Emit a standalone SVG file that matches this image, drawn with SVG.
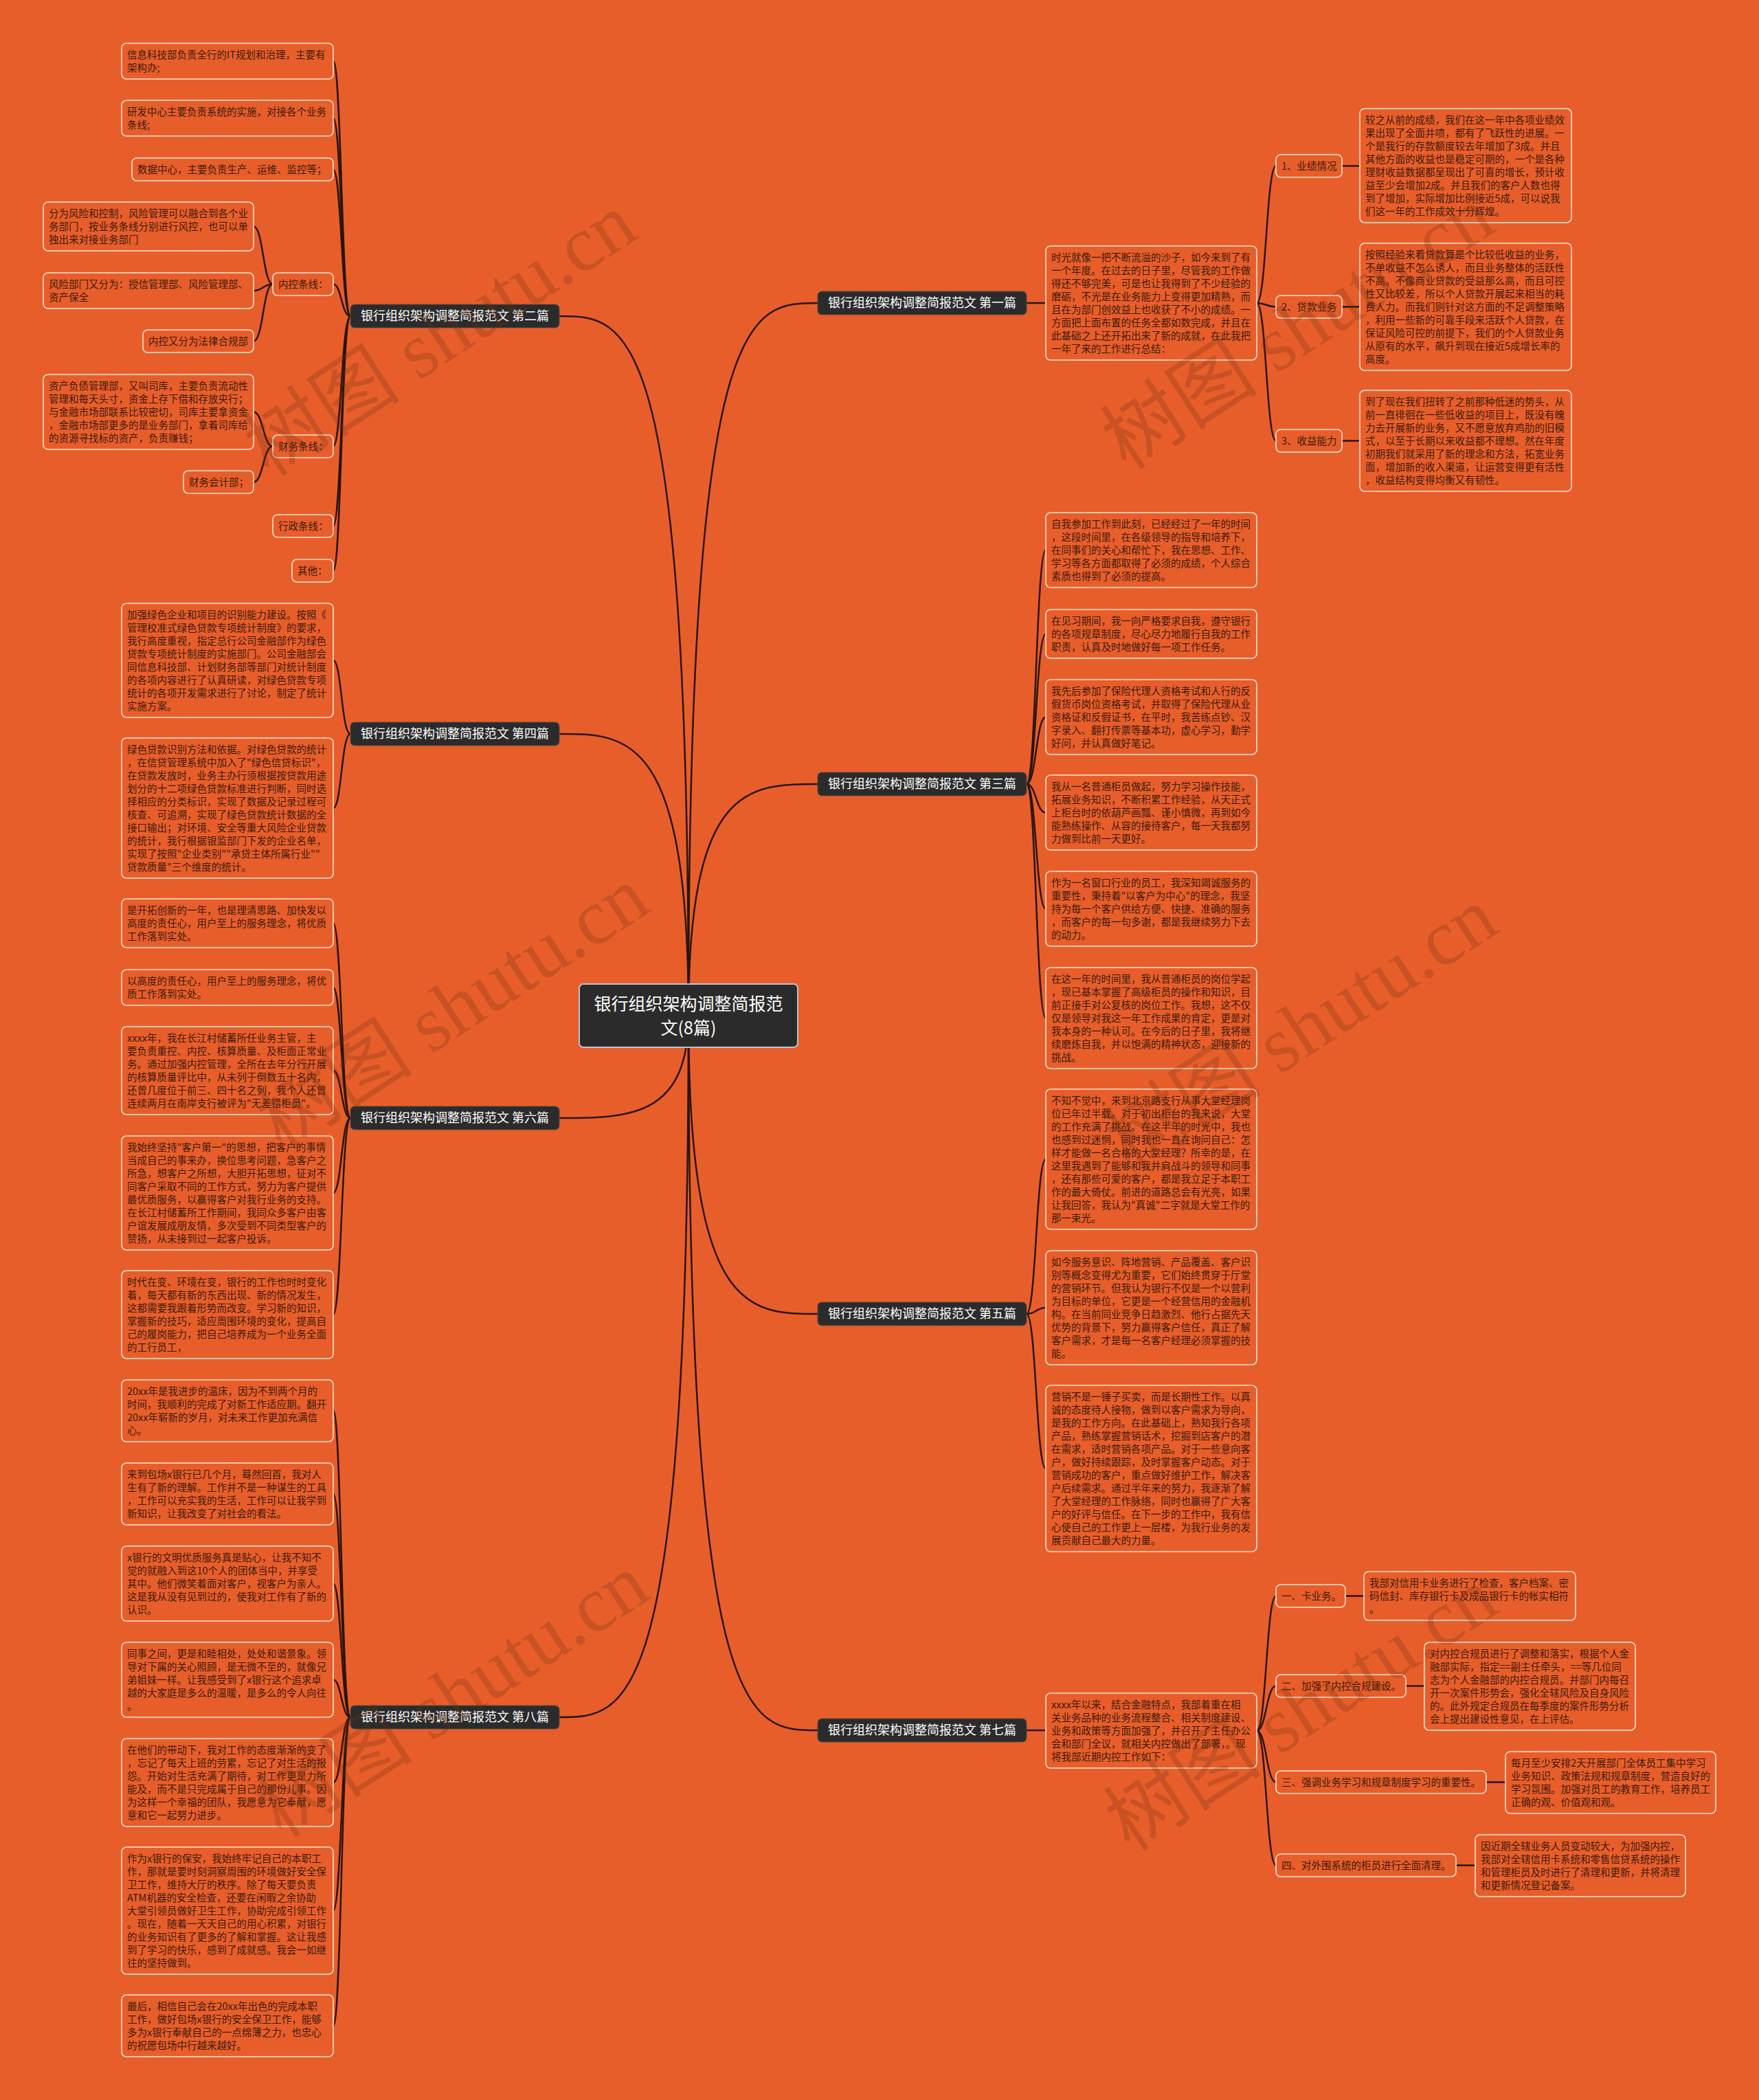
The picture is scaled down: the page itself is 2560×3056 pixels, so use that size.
<svg xmlns="http://www.w3.org/2000/svg" width="2560" height="3056" viewBox="0 0 2560 3056">
<style>
.bg{fill:#E85E2B}
.box{fill:#E85E2B;stroke:#FBE3CF;stroke-width:1.6}
.t{font-family:"Noto Sans CJK SC","Noto Sans CJK JP",sans-serif;font-size:14.5px;fill:#3b1a0c}
.br{fill:#2b2b2b;stroke:#5a4a44;stroke-width:1}
.bt{font-family:"Noto Sans CJK SC","Noto Sans CJK JP",sans-serif;font-size:18px;fill:#ffffff;text-anchor:middle}
.root{fill:#2b2b2b;stroke:#b8c4cf;stroke-width:2}
.rt{font-family:"Noto Sans CJK SC","Noto Sans CJK JP",sans-serif;font-size:25px;fill:#ffffff;text-anchor:middle}
.ln{fill:none;stroke:#2a150b;stroke-width:2.5}
.wm{font-family:"Liberation Serif","Noto Sans CJK SC",serif;font-size:115px;fill:#6b2f12;opacity:0.25;text-anchor:middle}
</style>
<rect class="bg" x="0" y="0" width="2560" height="3056"/>

<g id="connectors">
<path class="ln" d="M1002,1478 C1002,460 914,460 814,460"/>
<path class="ln" d="M1002,1478 C1002,1068 914,1068 814,1068"/>
<path class="ln" d="M1002,1478 C1002,1627 914,1627 814,1627"/>
<path class="ln" d="M1002,1478 C1002,2499 914,2499 814,2499"/>
<path class="ln" d="M1002,1478 C1002,441 1090,441 1190,441"/>
<path class="ln" d="M1002,1478 C1002,1141 1090,1141 1190,1141"/>
<path class="ln" d="M1002,1478 C1002,1912 1090,1912 1190,1912"/>
<path class="ln" d="M1002,1478 C1002,2518 1090,2518 1190,2518"/>
<path class="ln" d="M510,460 C497,460 497,89 485,89"/>
<path class="ln" d="M510,460 C497,460 497,172 485,172"/>
<path class="ln" d="M510,460 C497,460 497,246.5 485,246.5"/>
<path class="ln" d="M510,460 C497,460 497,413.5 485,413.5"/>
<path class="ln" d="M510,460 C497,460 497,649.5 485,649.5"/>
<path class="ln" d="M510,460 C497,460 497,765.5 485,765.5"/>
<path class="ln" d="M510,460 C497,460 497,830.5 485,830.5"/>
<path class="ln" d="M397,413.5 C383,413.5 383,329.5 369,329.5"/>
<path class="ln" d="M397,413.5 C383,413.5 383,423 369,423"/>
<path class="ln" d="M397,413.5 C383,413.5 383,496.5 369,496.5"/>
<path class="ln" d="M397,649.5 C383,649.5 383,599.5 369,599.5"/>
<path class="ln" d="M397,649.5 C383,649.5 383,701.5 369,701.5"/>
<path class="ln" d="M510,1068 C497,1068 497,961 485,961"/>
<path class="ln" d="M510,1068 C497,1068 497,1176 485,1176"/>
<path class="ln" d="M510,1627 C497,1627 497,1343.5 485,1343.5"/>
<path class="ln" d="M510,1627 C497,1627 497,1437 485,1437"/>
<path class="ln" d="M510,1627 C497,1627 497,1558 485,1558"/>
<path class="ln" d="M510,1627 C497,1627 497,1736 485,1736"/>
<path class="ln" d="M510,1627 C497,1627 497,1913 485,1913"/>
<path class="ln" d="M510,2499 C497,2499 497,2053 485,2053"/>
<path class="ln" d="M510,2499 C497,2499 497,2174 485,2174"/>
<path class="ln" d="M510,2499 C497,2499 497,2304.5 485,2304.5"/>
<path class="ln" d="M510,2499 C497,2499 497,2444.5 485,2444.5"/>
<path class="ln" d="M510,2499 C497,2499 497,2594 485,2594"/>
<path class="ln" d="M510,2499 C497,2499 497,2780.5 485,2780.5"/>
<path class="ln" d="M510,2499 C497,2499 497,2948 485,2948"/>
<path class="ln" d="M1494,441 L1522,441"/>
<path class="ln" d="M1829,441 C1843,441 1843,241.5 1857,241.5"/>
<path class="ln" d="M1829,441 C1843,441 1843,446.5 1857,446.5"/>
<path class="ln" d="M1829,441 C1843,441 1843,641.5 1857,641.5"/>
<path class="ln" d="M1953,241.5 L1979,241.5"/>
<path class="ln" d="M1953,446.5 L1979,446.5"/>
<path class="ln" d="M1953,641.5 L1979,641.5"/>
<path class="ln" d="M1494,1141 C1508,1141 1508,800.5 1522,800.5"/>
<path class="ln" d="M1494,1141 C1508,1141 1508,922.5 1522,922.5"/>
<path class="ln" d="M1494,1141 C1508,1141 1508,1043.5 1522,1043.5"/>
<path class="ln" d="M1494,1141 C1508,1141 1508,1182.5 1522,1182.5"/>
<path class="ln" d="M1494,1141 C1508,1141 1508,1322.5 1522,1322.5"/>
<path class="ln" d="M1494,1141 C1508,1141 1508,1481.5 1522,1481.5"/>
<path class="ln" d="M1494,1912 C1508,1912 1508,1687 1522,1687"/>
<path class="ln" d="M1494,1912 C1508,1912 1508,1903 1522,1903"/>
<path class="ln" d="M1494,1912 C1508,1912 1508,2137 1522,2137"/>
<path class="ln" d="M1494,2518 L1522,2518"/>
<path class="ln" d="M1829,2518.5 C1843,2518.5 1843,2322.5 1857,2322.5"/>
<path class="ln" d="M1829,2518.5 C1843,2518.5 1843,2453.5 1857,2453.5"/>
<path class="ln" d="M1829,2518.5 C1843,2518.5 1843,2593.5 1857,2593.5"/>
<path class="ln" d="M1829,2518.5 C1843,2518.5 1843,2714.5 1857,2714.5"/>
<path class="ln" d="M1958,2322.5 L1985,2322.5"/>
<path class="ln" d="M2046,2453.5 L2073,2453.5"/>
<path class="ln" d="M2163,2593.5 L2191,2593.5"/>
<path class="ln" d="M2119,2714.5 L2147,2714.5"/>
</g>

<g id="root">
<rect class="root" x="843" y="1432" width="318" height="92" rx="6"/>
<text class="rt" x="1002" y="1470">银行组织架构调整简报范</text>
<text class="rt" x="1002" y="1505">文(8篇)</text>
</g>

<g id="branch2"><rect class="br" x="510" y="443" width="304" height="34" rx="6"/><text class="bt" x="662" y="466">银行组织架构调整简报范文 第二篇</text></g>
<g id="branch4"><rect class="br" x="510" y="1051" width="304" height="34" rx="6"/><text class="bt" x="662" y="1074">银行组织架构调整简报范文 第四篇</text></g>
<g id="branch6"><rect class="br" x="510" y="1610" width="304" height="34" rx="6"/><text class="bt" x="662" y="1633">银行组织架构调整简报范文 第六篇</text></g>
<g id="branch8"><rect class="br" x="510" y="2482" width="304" height="34" rx="6"/><text class="bt" x="662" y="2505">银行组织架构调整简报范文 第八篇</text></g>
<g id="branch1"><rect class="br" x="1190" y="424" width="304" height="34" rx="6"/><text class="bt" x="1342" y="447">银行组织架构调整简报范文 第一篇</text></g>
<g id="branch3"><rect class="br" x="1190" y="1124" width="304" height="34" rx="6"/><text class="bt" x="1342" y="1147">银行组织架构调整简报范文 第三篇</text></g>
<g id="branch5"><rect class="br" x="1190" y="1895" width="304" height="34" rx="6"/><text class="bt" x="1342" y="1918">银行组织架构调整简报范文 第五篇</text></g>
<g id="branch7"><rect class="br" x="1190" y="2501" width="304" height="34" rx="6"/><text class="bt" x="1342" y="2524">银行组织架构调整简报范文 第七篇</text></g>

<g id="b2-1"><rect class="box" x="177" y="63" width="308" height="52" rx="7"/><text class="t" x="185" y="85"><tspan x="185">信息科技部负责全行的IT规划和治理，主要有</tspan><tspan x="185" dy="19">架构办;</tspan></text></g>
<g id="b2-2"><rect class="box" x="177" y="146" width="308" height="52" rx="7"/><text class="t" x="185" y="168"><tspan x="185">研发中心主要负责系统的实施，对接各个业务</tspan><tspan x="185" dy="19">条线;</tspan></text></g>
<g id="b2-3"><rect class="box" x="192" y="230" width="293" height="33" rx="7"/><text class="t" x="200" y="252">数据中心，主要负责生产、运维、监控等；</text></g>
<g id="b2-4"><rect class="box" x="397" y="397" width="88" height="33" rx="7"/><text class="t" x="405" y="419">内控条线：</text></g>
<g id="b2-4-1"><rect class="box" x="63" y="294" width="306" height="71" rx="7"/><text class="t" x="71" y="316"><tspan x="71">分为风险和控制，风险管理可以融合到各个业</tspan><tspan x="71" dy="19">务部门，按业务条线分别进行风控，也可以单</tspan><tspan x="71" dy="19">独出来对接业务部门</tspan></text></g>
<g id="b2-4-2"><rect class="box" x="63" y="397" width="306" height="52" rx="7"/><text class="t" x="71" y="419"><tspan x="71">风险部门又分为：授信管理部、风险管理部、</tspan><tspan x="71" dy="19">资产保全</tspan></text></g>
<g id="b2-4-3"><rect class="box" x="208" y="480" width="161" height="33" rx="7"/><text class="t" x="216" y="502">内控又分为法律合规部</text></g>
<g id="b2-5"><rect class="box" x="397" y="633" width="88" height="33" rx="7"/><text class="t" x="405" y="655">财务条线：</text></g>
<g id="b2-5-1"><rect class="box" x="63" y="545" width="306" height="109" rx="7"/><text class="t" x="71" y="567"><tspan x="71">资产负债管理部，又叫司库，主要负责流动性</tspan><tspan x="71" dy="19">管理和每天头寸，资金上存下借和存放央行；</tspan><tspan x="71" dy="19">与金融市场部联系比较密切，司库主要拿资金</tspan><tspan x="71" dy="19">，金融市场部更多的是业务部门，拿着司库给</tspan><tspan x="71" dy="19">的资源寻找标的资产，负责赚钱；</tspan></text></g>
<g id="b2-5-2"><rect class="box" x="267" y="685" width="102" height="33" rx="7"/><text class="t" x="275" y="707">财务会计部；</text></g>
<g id="b2-6"><rect class="box" x="397" y="749" width="88" height="33" rx="7"/><text class="t" x="405" y="771">行政条线：</text></g>
<g id="b2-7"><rect class="box" x="425" y="814" width="60" height="33" rx="7"/><text class="t" x="433" y="836">其他：</text></g>

<g id="b4-1"><rect class="box" x="177" y="878" width="308" height="166" rx="7"/><text class="t" x="185" y="900"><tspan x="185">加强绿色企业和项目的识别能力建设。按照《</tspan><tspan x="185" dy="19">管理校准式绿色贷款专项统计制度》的要求，</tspan><tspan x="185" dy="19">我行高度重视，指定总行公司金融部作为绿色</tspan><tspan x="185" dy="19">贷款专项统计制度的实施部门。公司金融部会</tspan><tspan x="185" dy="19">同信息科技部、计划财务部等部门对统计制度</tspan><tspan x="185" dy="19">的各项内容进行了认真研读，对绿色贷款专项</tspan><tspan x="185" dy="19">统计的各项开发需求进行了讨论，制定了统计</tspan><tspan x="185" dy="19">实施方案。</tspan></text></g>
<g id="b4-2"><rect class="box" x="177" y="1074" width="308" height="204" rx="7"/><text class="t" x="185" y="1096"><tspan x="185">绿色贷款识别方法和依据。对绿色贷款的统计</tspan><tspan x="185" dy="19">，在信贷管理系统中加入了"绿色信贷标识"，</tspan><tspan x="185" dy="19">在贷款发放时，业务主办行须根据按贷款用途</tspan><tspan x="185" dy="19">划分的十二项绿色贷款标准进行判断，同时选</tspan><tspan x="185" dy="19">择相应的分类标识，实现了数据及记录过程可</tspan><tspan x="185" dy="19">核查、可追溯，实现了绿色贷款统计数据的全</tspan><tspan x="185" dy="19">接口输出；对环境、安全等重大风险企业贷款</tspan><tspan x="185" dy="19">的统计，我行根据银监部门下发的企业名单，</tspan><tspan x="185" dy="19">实现了按照"企业类别""承贷主体所属行业""</tspan><tspan x="185" dy="19">贷款质量"三个维度的统计。</tspan></text></g>

<g id="b6-1"><rect class="box" x="177" y="1308" width="308" height="71" rx="7"/><text class="t" x="185" y="1330"><tspan x="185">是开拓创新的一年，也是理清思路、加快发以</tspan><tspan x="185" dy="19">高度的责任心，用户至上的服务理念，将优质</tspan><tspan x="185" dy="19">工作落到实处。</tspan></text></g>
<g id="b6-2"><rect class="box" x="177" y="1411" width="308" height="52" rx="7"/><text class="t" x="185" y="1433"><tspan x="185">以高度的责任心，用户至上的服务理念，将优</tspan><tspan x="185" dy="19">质工作落到实处。</tspan></text></g>
<g id="b6-3"><rect class="box" x="177" y="1494" width="308" height="128" rx="7"/><text class="t" x="185" y="1516"><tspan x="185">xxxx年，我在长江村储蓄所任业务主管，主</tspan><tspan x="185" dy="19">要负责重控、内控、核算质量、及柜面正常业</tspan><tspan x="185" dy="19">务。通过加强内控管理，全所在去年分行开展</tspan><tspan x="185" dy="19">的核算质量评比中，从未列于倒数五十名内，</tspan><tspan x="185" dy="19">还曾几度位于前三、四十名之列，我个人还曾</tspan><tspan x="185" dy="19">连续两月在南岸支行被评为"无差错柜员"。</tspan></text></g>
<g id="b6-4"><rect class="box" x="177" y="1653" width="308" height="166" rx="7"/><text class="t" x="185" y="1675"><tspan x="185">我始终坚持"客户第一"的思想，把客户的事情</tspan><tspan x="185" dy="19">当成自己的事来办，换位思考问题，急客户之</tspan><tspan x="185" dy="19">所急，想客户之所想，大胆开拓思想，征对不</tspan><tspan x="185" dy="19">同客户采取不同的工作方式，努力为客户提供</tspan><tspan x="185" dy="19">最优质服务，以赢得客户对我行业务的支持。</tspan><tspan x="185" dy="19">在长江村储蓄所工作期间，我同众多客户由客</tspan><tspan x="185" dy="19">户谊发展成朋友情，多次受到不同类型客户的</tspan><tspan x="185" dy="19">赞扬，从未接到过一起客户投诉。</tspan></text></g>
<g id="b6-5"><rect class="box" x="177" y="1849" width="308" height="128" rx="7"/><text class="t" x="185" y="1871"><tspan x="185">时代在变、环境在变，银行的工作也时时变化</tspan><tspan x="185" dy="19">着，每天都有新的东西出现、新的情况发生，</tspan><tspan x="185" dy="19">这都需要我跟着形势而改变。学习新的知识，</tspan><tspan x="185" dy="19">掌握新的技巧，适应周围环境的变化，提高自</tspan><tspan x="185" dy="19">己的履岗能力，把自己培养成为一个业务全面</tspan><tspan x="185" dy="19">的工行员工，</tspan></text></g>

<g id="b8-1"><rect class="box" x="177" y="2008" width="308" height="90" rx="7"/><text class="t" x="185" y="2030"><tspan x="185">20xx年是我进步的温床，因为不到两个月的</tspan><tspan x="185" dy="19">时间，我顺利的完成了对新工作适应期。翻开</tspan><tspan x="185" dy="19">20xx年崭新的岁月，对未来工作更加充满信</tspan><tspan x="185" dy="19">心。</tspan></text></g>
<g id="b8-2"><rect class="box" x="177" y="2129" width="308" height="90" rx="7"/><text class="t" x="185" y="2151"><tspan x="185">来到包场x银行已几个月，蓦然回首，我对人</tspan><tspan x="185" dy="19">生有了新的理解。工作并不是一种谋生的工具</tspan><tspan x="185" dy="19">，工作可以充实我的生活，工作可以让我学到</tspan><tspan x="185" dy="19">新知识，让我改变了对社会的看法。</tspan></text></g>
<g id="b8-3"><rect class="box" x="177" y="2250" width="308" height="109" rx="7"/><text class="t" x="185" y="2272"><tspan x="185">x银行的文明优质服务真是贴心，让我不知不</tspan><tspan x="185" dy="19">觉的就融入到这10个人的团体当中，并享受</tspan><tspan x="185" dy="19">其中。他们微笑着面对客户，视客户为亲人。</tspan><tspan x="185" dy="19">这是我从没有见到过的，使我对工作有了新的</tspan><tspan x="185" dy="19">认识。</tspan></text></g>
<g id="b8-4"><rect class="box" x="177" y="2390" width="308" height="109" rx="7"/><text class="t" x="185" y="2412"><tspan x="185">同事之间，更是和睦相处，处处和谐景象。领</tspan><tspan x="185" dy="19">导对下属的关心照顾，是无微不至的，就像兄</tspan><tspan x="185" dy="19">弟姐妹一样。让我感受到了x银行这个追求卓</tspan><tspan x="185" dy="19">越的大家庭是多么的温暖，是多么的令人向往</tspan><tspan x="185" dy="19">。</tspan></text></g>
<g id="b8-5"><rect class="box" x="177" y="2530" width="308" height="128" rx="7"/><text class="t" x="185" y="2552"><tspan x="185">在他们的带动下，我对工作的态度渐渐的变了</tspan><tspan x="185" dy="19">，忘记了每天上班的劳累，忘记了对生活的报</tspan><tspan x="185" dy="19">怨。开始对生活充满了期待，对工作更是力所</tspan><tspan x="185" dy="19">能及，而不是只完成属于自己的那份儿事。因</tspan><tspan x="185" dy="19">为这样一个幸福的团队，我愿意为它奉献，愿</tspan><tspan x="185" dy="19">意和它一起努力进步。</tspan></text></g>
<g id="b8-6"><rect class="box" x="177" y="2688" width="308" height="185" rx="7"/><text class="t" x="185" y="2710"><tspan x="185">作为x银行的保安，我始终牢记自己的本职工</tspan><tspan x="185" dy="19">作，那就是要时刻洞察周围的环境做好安全保</tspan><tspan x="185" dy="19">卫工作，维持大厅的秩序。除了每天要负责</tspan><tspan x="185" dy="19">ATM机器的安全检查，还要在闲暇之余协助</tspan><tspan x="185" dy="19">大堂引领员做好卫生工作，协助完成引领工作</tspan><tspan x="185" dy="19">。现在，随着一天天自己的用心积累，对银行</tspan><tspan x="185" dy="19">的业务知识有了更多的了解和掌握。这让我感</tspan><tspan x="185" dy="19">到了学习的快乐，感到了成就感。我会一如继</tspan><tspan x="185" dy="19">往的坚持做到。</tspan></text></g>
<g id="b8-7"><rect class="box" x="177" y="2903" width="308" height="90" rx="7"/><text class="t" x="185" y="2925"><tspan x="185">最后，相信自己会在20xx年出色的完成本职</tspan><tspan x="185" dy="19">工作，做好包场x银行的安全保卫工作，能够</tspan><tspan x="185" dy="19">多为x银行奉献自己的一点绵薄之力，也忠心</tspan><tspan x="185" dy="19">的祝愿包场中行越来越好。</tspan></text></g>

<g id="b1-0"><rect class="box" x="1522" y="358" width="307" height="166" rx="7"/><text class="t" x="1530" y="380"><tspan x="1530">时光就像一把不断流溢的沙子，如今来到了有</tspan><tspan x="1530" dy="19">一个年度。在过去的日子里，尽管我的工作做</tspan><tspan x="1530" dy="19">得还不够完美，可是也让我得到了不少经验的</tspan><tspan x="1530" dy="19">磨砺，不光是在业务能力上变得更加精熟，而</tspan><tspan x="1530" dy="19">且在为部门创效益上也收获了不小的成绩。一</tspan><tspan x="1530" dy="19">方面把上面布置的任务全都如数完成，并且在</tspan><tspan x="1530" dy="19">此基础之上还开拓出来了新的成就，在此我把</tspan><tspan x="1530" dy="19">一年了来的工作进行总结：</tspan></text></g>
<g id="b1-1"><rect class="box" x="1857" y="225" width="96" height="33" rx="7"/><text class="t" x="1865" y="247">1、业绩情况</text></g>
<g id="b1-2"><rect class="box" x="1857" y="430" width="96" height="33" rx="7"/><text class="t" x="1865" y="452">2、贷款业务</text></g>
<g id="b1-3"><rect class="box" x="1857" y="625" width="96" height="33" rx="7"/><text class="t" x="1865" y="647">3、收益能力</text></g>
<g id="b1-1-1"><rect class="box" x="1979" y="158" width="308" height="166" rx="7"/><text class="t" x="1987" y="180"><tspan x="1987">较之从前的成绩，我们在这一年中各项业绩效</tspan><tspan x="1987" dy="19">果出现了全面井喷，都有了飞跃性的进展。一</tspan><tspan x="1987" dy="19">个是我行的存款额度较去年增加了3成。并且</tspan><tspan x="1987" dy="19">其他方面的收益也是稳定可期的，一个是各种</tspan><tspan x="1987" dy="19">理财收益数据都呈现出了可喜的增长，预计收</tspan><tspan x="1987" dy="19">益至少会增加2成。并且我们的客户人数也得</tspan><tspan x="1987" dy="19">到了增加，实际增加比例接近5成，可以说我</tspan><tspan x="1987" dy="19">们这一年的工作成效十分辉煌。</tspan></text></g>
<g id="b1-2-1"><rect class="box" x="1979" y="354" width="308" height="185" rx="7"/><text class="t" x="1987" y="376"><tspan x="1987">按照经验来看贷款算是个比较低收益的业务，</tspan><tspan x="1987" dy="19">不单收益不怎么诱人，而且业务整体的活跃性</tspan><tspan x="1987" dy="19">不高。不像商业贷款的受益那么高，而且可控</tspan><tspan x="1987" dy="19">性又比较差，所以个人贷款开展起来相当的耗</tspan><tspan x="1987" dy="19">费人力。而我们则针对这方面的不足调整策略</tspan><tspan x="1987" dy="19">，利用一些新的可靠手段来活跃个人贷款，在</tspan><tspan x="1987" dy="19">保证风险可控的前提下，我们的个人贷款业务</tspan><tspan x="1987" dy="19">从原有的水平，飙升到现在接近5成增长率的</tspan><tspan x="1987" dy="19">高度。</tspan></text></g>
<g id="b1-3-1"><rect class="box" x="1979" y="568" width="308" height="147" rx="7"/><text class="t" x="1987" y="590"><tspan x="1987">到了现在我们扭转了之前那种低迷的势头，从</tspan><tspan x="1987" dy="19">前一直徘徊在一些低收益的项目上，既没有魄</tspan><tspan x="1987" dy="19">力去开展新的业务，又不愿意放弃鸡肋的旧模</tspan><tspan x="1987" dy="19">式，以至于长期以来收益都不理想。然在年度</tspan><tspan x="1987" dy="19">初期我们就采用了新的理念和方法，拓宽业务</tspan><tspan x="1987" dy="19">面，增加新的收入渠道，让运营变得更有活性</tspan><tspan x="1987" dy="19">，收益结构变得均衡又有韧性。</tspan></text></g>

<g id="b3-1"><rect class="box" x="1522" y="746" width="307" height="109" rx="7"/><text class="t" x="1530" y="768"><tspan x="1530">自我参加工作到此刻，已经经过了一年的时间</tspan><tspan x="1530" dy="19">，这段时间里，在各级领导的指导和培养下，</tspan><tspan x="1530" dy="19">在同事们的关心和帮忙下，我在思想、工作、</tspan><tspan x="1530" dy="19">学习等各方面都取得了必须的成绩，个人综合</tspan><tspan x="1530" dy="19">素质也得到了必须的提高。</tspan></text></g>
<g id="b3-2"><rect class="box" x="1522" y="887" width="307" height="71" rx="7"/><text class="t" x="1530" y="909"><tspan x="1530">在见习期间，我一向严格要求自我，遵守银行</tspan><tspan x="1530" dy="19">的各项规章制度，尽心尽力地履行自我的工作</tspan><tspan x="1530" dy="19">职责，认真及时地做好每一项工作任务。</tspan></text></g>
<g id="b3-3"><rect class="box" x="1522" y="989" width="307" height="109" rx="7"/><text class="t" x="1530" y="1011"><tspan x="1530">我先后参加了保险代理人资格考试和人行的反</tspan><tspan x="1530" dy="19">假货币岗位资格考试，并取得了保险代理从业</tspan><tspan x="1530" dy="19">资格证和反假证书，在平时，我苦练点钞、汉</tspan><tspan x="1530" dy="19">字录入、翻打传票等基本功，虚心学习，勤学</tspan><tspan x="1530" dy="19">好问，并认真做好笔记。</tspan></text></g>
<g id="b3-4"><rect class="box" x="1522" y="1128" width="307" height="109" rx="7"/><text class="t" x="1530" y="1150"><tspan x="1530">我从一名普通柜员做起，努力学习操作技能，</tspan><tspan x="1530" dy="19">拓展业务知识，不断积累工作经验，从天正式</tspan><tspan x="1530" dy="19">上柜台时的依葫芦画瓢、谨小慎微，再到如今</tspan><tspan x="1530" dy="19">能熟练操作、从容的接待客户，每一天我都努</tspan><tspan x="1530" dy="19">力做到比前一天更好。</tspan></text></g>
<g id="b3-5"><rect class="box" x="1522" y="1268" width="307" height="109" rx="7"/><text class="t" x="1530" y="1290"><tspan x="1530">作为一名窗口行业的员工，我深知竭诚服务的</tspan><tspan x="1530" dy="19">重要性，秉持着"以客户为中心"的理念，我坚</tspan><tspan x="1530" dy="19">持为每一个客户供给方便、快捷、准确的服务</tspan><tspan x="1530" dy="19">，而客户的每一句多谢，都是我继续努力下去</tspan><tspan x="1530" dy="19">的动力。</tspan></text></g>
<g id="b3-6"><rect class="box" x="1522" y="1408" width="307" height="147" rx="7"/><text class="t" x="1530" y="1430"><tspan x="1530">在这一年的时间里，我从普通柜员的岗位学起</tspan><tspan x="1530" dy="19">，现已基本掌握了高级柜员的操作和知识，目</tspan><tspan x="1530" dy="19">前正接手对公复核的岗位工作。我想，这不仅</tspan><tspan x="1530" dy="19">仅是领导对我这一年工作成果的肯定，更是对</tspan><tspan x="1530" dy="19">我本身的一种认可。在今后的日子里，我将继</tspan><tspan x="1530" dy="19">续磨炼自我，并以饱满的精神状态，迎接新的</tspan><tspan x="1530" dy="19">挑战。</tspan></text></g>

<g id="b5-1"><rect class="box" x="1522" y="1585" width="307" height="204" rx="7"/><text class="t" x="1530" y="1607"><tspan x="1530">不知不觉中，来到北京路支行从事大堂经理岗</tspan><tspan x="1530" dy="19">位已年过半载。对于初出柜台的我来说，大堂</tspan><tspan x="1530" dy="19">的工作充满了挑战。在这半年的时光中，我也</tspan><tspan x="1530" dy="19">也感到过迷惘，同时我也一直在询问自己：怎</tspan><tspan x="1530" dy="19">样才能做一名合格的大堂经理？所幸的是，在</tspan><tspan x="1530" dy="19">这里我遇到了能够和我并肩战斗的领导和同事</tspan><tspan x="1530" dy="19">，还有那些可爱的客户，都是我立足于本职工</tspan><tspan x="1530" dy="19">作的最大倚仗。前进的道路总会有光亮，如果</tspan><tspan x="1530" dy="19">让我回答，我认为"真诚"二字就是大堂工作的</tspan><tspan x="1530" dy="19">那一束光。</tspan></text></g>
<g id="b5-2"><rect class="box" x="1522" y="1820" width="307" height="166" rx="7"/><text class="t" x="1530" y="1842"><tspan x="1530">如今服务意识、阵地营销、产品覆盖、客户识</tspan><tspan x="1530" dy="19">别等概念变得尤为重要，它们始终贯穿于厅堂</tspan><tspan x="1530" dy="19">的营销环节。但我认为银行不仅是一个以营利</tspan><tspan x="1530" dy="19">为目标的单位，它更是一个经营信用的金融机</tspan><tspan x="1530" dy="19">构。在当前同业竞争日趋激烈、他行占据先天</tspan><tspan x="1530" dy="19">优势的背景下，努力赢得客户信任，真正了解</tspan><tspan x="1530" dy="19">客户需求，才是每一名客户经理必须掌握的技</tspan><tspan x="1530" dy="19">能。</tspan></text></g>
<g id="b5-3"><rect class="box" x="1522" y="2016" width="307" height="242" rx="7"/><text class="t" x="1530" y="2038"><tspan x="1530">营销不是一锤子买卖，而是长期性工作。以真</tspan><tspan x="1530" dy="19">诚的态度待人接物，做到以客户需求为导向，</tspan><tspan x="1530" dy="19">是我的工作方向。在此基础上，熟知我行各项</tspan><tspan x="1530" dy="19">产品，熟练掌握营销话术，挖掘到店客户的潜</tspan><tspan x="1530" dy="19">在需求，适时营销各项产品。对于一些意向客</tspan><tspan x="1530" dy="19">户，做好持续跟踪，及时掌握客户动态。对于</tspan><tspan x="1530" dy="19">营销成功的客户，重点做好维护工作，解决客</tspan><tspan x="1530" dy="19">户后续需求。通过半年来的努力，我逐渐了解</tspan><tspan x="1530" dy="19">了大堂经理的工作脉络，同时也赢得了广大客</tspan><tspan x="1530" dy="19">户的好评与信任。在下一步的工作中，我有信</tspan><tspan x="1530" dy="19">心使自己的工作更上一层楼，为我行业务的发</tspan><tspan x="1530" dy="19">展贡献自己最大的力量。</tspan></text></g>

<g id="b7-0"><rect class="box" x="1522" y="2464" width="307" height="109" rx="7"/><text class="t" x="1530" y="2486"><tspan x="1530">xxxx年以来，结合金融特点，我部着重在相</tspan><tspan x="1530" dy="19">关业务品种的业务流程整合、相关制度建设、</tspan><tspan x="1530" dy="19">业务和政策等方面加强了，并召开了主任办公</tspan><tspan x="1530" dy="19">会和部门全议，就相关内控做出了部署，。现</tspan><tspan x="1530" dy="19">将我部近期内控工作如下：</tspan></text></g>
<g id="b7-1"><rect class="box" x="1857" y="2306" width="101" height="33" rx="7"/><text class="t" x="1865" y="2328">一、卡业务。</text></g>
<g id="b7-2"><rect class="box" x="1857" y="2437" width="189" height="33" rx="7"/><text class="t" x="1865" y="2459">二、加强了内控合规建设。</text></g>
<g id="b7-3"><rect class="box" x="1857" y="2577" width="306" height="33" rx="7"/><text class="t" x="1865" y="2599">三、强调业务学习和规章制度学习的重要性。</text></g>
<g id="b7-4"><rect class="box" x="1857" y="2698" width="262" height="33" rx="7"/><text class="t" x="1865" y="2720">四、对外围系统的柜员进行全面清理。</text></g>
<g id="b7-1-1"><rect class="box" x="1985" y="2287" width="308" height="71" rx="7"/><text class="t" x="1993" y="2309"><tspan x="1993">我部对信用卡业务进行了检查，客户档案、密</tspan><tspan x="1993" dy="19">码信封、库存银行卡及成品银行卡的帐实相符</tspan><tspan x="1993" dy="19">。</tspan></text></g>
<g id="b7-2-1"><rect class="box" x="2073" y="2390" width="307" height="128" rx="7"/><text class="t" x="2081" y="2412"><tspan x="2081">对内控合规员进行了调整和落实，根据个人金</tspan><tspan x="2081" dy="19">融部实际，指定==副主任牵头，==等几位同</tspan><tspan x="2081" dy="19">志为个人金融部的内控合规员。并部门内每召</tspan><tspan x="2081" dy="19">开一次案件形势会，强化全辖风险及自身风险</tspan><tspan x="2081" dy="19">的。此外规定合规员在每季度的案件形势分析</tspan><tspan x="2081" dy="19">会上提出建设性意见，在上评估。</tspan></text></g>
<g id="b7-3-1"><rect class="box" x="2191" y="2549" width="306" height="90" rx="7"/><text class="t" x="2199" y="2571"><tspan x="2199">每月至少安排2天开展部门全体员工集中学习</tspan><tspan x="2199" dy="19">业务知识、政策法规和规章制度，营造良好的</tspan><tspan x="2199" dy="19">学习氛围。加强对员工的教育工作，培养员工</tspan><tspan x="2199" dy="19">正确的观、价值观和观。</tspan></text></g>
<g id="b7-4-1"><rect class="box" x="2147" y="2670" width="306" height="90" rx="7"/><text class="t" x="2155" y="2692"><tspan x="2155">因近期全辖业务人员变动较大，为加强内控，</tspan><tspan x="2155" dy="19">我部对全辖信用卡系统和零售信贷系统的操作</tspan><tspan x="2155" dy="19">和管理柜员及时进行了清理和更新，并将清理</tspan><tspan x="2155" dy="19">和更新情况登记备案。</tspan></text></g>

<g id="watermarks">
<text class="wm" transform="translate(662,520) rotate(-33)">树图 shutu.cn</text>
<text class="wm" transform="translate(680,1500) rotate(-33)">树图 shutu.cn</text>
<text class="wm" transform="translate(680,2500) rotate(-33)">树图 shutu.cn</text>
<text class="wm" transform="translate(1910,510) rotate(-33)">树图 shutu.cn</text>
<text class="wm" transform="translate(1915,1530) rotate(-33)">树图 shutu.cn</text>
<text class="wm" transform="translate(1915,2520) rotate(-33)">树图 shutu.cn</text>
</g>
</svg>
